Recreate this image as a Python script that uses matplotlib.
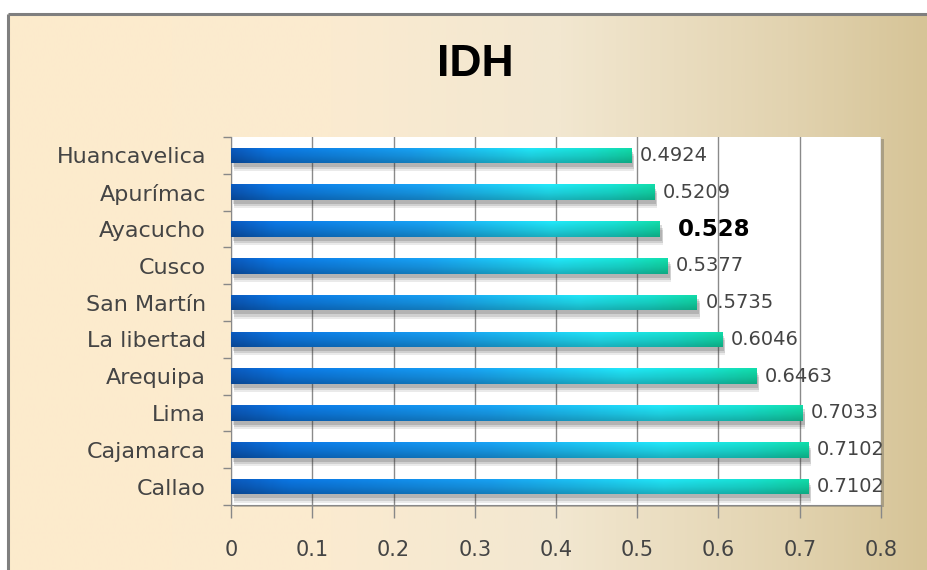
import numpy as np
import matplotlib
matplotlib.use("Agg")
import matplotlib.pyplot as plt
from matplotlib import patheffects as pe
from matplotlib.colors import LinearSegmentedColormap

# ---- data ----
regions = ["Huancavelica", "Apurímac", "Ayacucho", "Cusco", "San Martín",
           "La libertad", "Arequipa", "Lima", "Cajamarca", "Callao"]
idh = [0.4924, 0.5209, 0.528, 0.5377, 0.5735,
       0.6046, 0.6463, 0.7033, 0.7102, 0.7102]
value_labels = ["0.4924", "0.5209", "0.528", "0.5377", "0.5735",
                "0.6046", "0.6463", "0.7033", "0.7102", "0.7102"]
highlight = "Ayacucho"
xticks = [0, 0.1, 0.2, 0.3, 0.4, 0.5, 0.6, 0.7, 0.8]
xtick_labels = ["0", "0.1", "0.2", "0.3", "0.4", "0.5", "0.6", "0.7", "0.8"]
title = "IDH"

W, H = 928, 570
fig = plt.figure(figsize=(W / 100, H / 100), dpi=100)
fig.patch.set_facecolor("white")

FONT = ["DejaVu Sans"]
TXT = "#444444"

# ---- background panel with gradient ----
bg = fig.add_axes([0, 0, 1, 1], zorder=0)
bg.set_xlim(0, W)
bg.set_ylim(H, 0)
bg.axis("off")
bg_cmap = LinearSegmentedColormap.from_list(
    "bg", [(0.0, "#fdebcc"), (0.35, "#fbebd0"), (0.6, "#f2e7d0"),
           (0.85, "#e2d3b0"), (1.0, "#d6c497")])
grad = np.linspace(0, 1, 400)[None, :]
bg.imshow(grad, cmap=bg_cmap, extent=(8, W, H, 14), aspect="auto",
          interpolation="bilinear")
bg.plot([8, 8], [H, 14], color="#7f7f7f", lw=2.2, solid_capstyle="butt")
bg.plot([8, W], [14, 14], color="#7f7f7f", lw=2.2, solid_capstyle="butt")

# ---- main axes ----
left, right, top, bottom = 231, 881, 137, 505
ax = fig.add_axes([left / W, 1 - bottom / H, (right - left) / W, (bottom - top) / H],
                  zorder=2)
ax.set_facecolor("white")
ax.patch.set_path_effects([pe.SimplePatchShadow(offset=(2.5, -1.5), alpha=0.35,
                                                shadow_rgbFace="#555555"), pe.Normal()])

y = np.arange(len(regions))

ax.set_xticks(xticks)
ax.set_xticklabels(xtick_labels, family=FONT, fontsize=15, color=TXT)
ax.set_yticks(y)
ax.set_yticklabels(regions, family=FONT, fontsize=16, color=TXT)
ax.tick_params(axis="y", which="major", length=0, pad=18)
ax.set_yticks(np.arange(len(regions) + 1) - 0.5, minor=True)
ax.tick_params(axis="y", which="minor", length=6, width=1, color="#888888",
               direction="out")
ax.tick_params(axis="x", which="major", length=9, width=1, color="#888888",
               direction="out", pad=16)
ax.grid(axis="x", color="#8a8a8a", lw=1)
ax.set_axisbelow(True)
for s in ["top", "right"]:
    ax.spines[s].set_visible(False)
ax.spines["left"].set_color("#888888")
ax.spines["bottom"].set_color("#888888")

bar_cmap = LinearSegmentedColormap.from_list(
    "bar", [(0.0, "#0a52ad"), (0.10, "#0a6ccf"), (0.45, "#1692dc"),
            (0.75, "#1ed0e0"), (0.90, "#16cdc0"), (1.0, "#10c79a")])

shadow = [pe.SimplePatchShadow(offset=(2, -6), alpha=0.10, shadow_rgbFace="#333333"),
          pe.SimplePatchShadow(offset=(2, -4.5), alpha=0.14, shadow_rgbFace="#333333"),
          pe.SimplePatchShadow(offset=(1.5, -3), alpha=0.18, shadow_rgbFace="#333333"),
          pe.Normal()]
bars = ax.barh(y, idh, height=0.42, color="#1794dd", zorder=3, path_effects=shadow)

# gradient fill clipped to each bar
nx, ny = 300, 40
gx = np.linspace(0, 1, nx)
rgb = bar_cmap(gx)[:, :3]
shade = np.concatenate([np.linspace(1.12, 1.0, ny // 2), np.linspace(1.0, 0.85, ny - ny // 2)])
img = np.clip(rgb[None, :, :] * shade[:, None, None], 0, 1)
for b in bars:
    x0, y0, w, h = b.get_x(), b.get_y(), b.get_width(), b.get_height()
    im = ax.imshow(img, extent=(x0, x0 + w, y0 + h, y0), aspect="auto",
                   interpolation="bilinear", zorder=4)
    im.set_clip_path(b)
ax.set_xlim(0, 0.8)
ax.set_ylim(len(regions) - 0.5, -0.5)

# value labels
for b, lab, reg in zip(bars, value_labels, regions):
    yc = b.get_y() + b.get_height() / 2
    if reg == highlight:
        ax.annotate(lab, (b.get_width(), yc), xytext=(13, 0), textcoords="offset points",
                    va="center", ha="left", fontsize=16.5, fontweight="bold",
                    color="black", family=FONT, zorder=6,
                    annotation_clip=False)
    else:
        ax.annotate(lab, (b.get_width(), yc), xytext=(6, 0), textcoords="offset points",
                    va="center", ha="left", fontsize=14, color=TXT,
                    family=FONT, zorder=6, annotation_clip=False)

fig.text(475 / W, 1 - 65 / H, title, ha="center", va="center", fontsize=32,
         fontweight="bold", family=["Liberation Sans", "DejaVu Sans"],
         color="black")

fig.savefig("out.png", dpi=100)
